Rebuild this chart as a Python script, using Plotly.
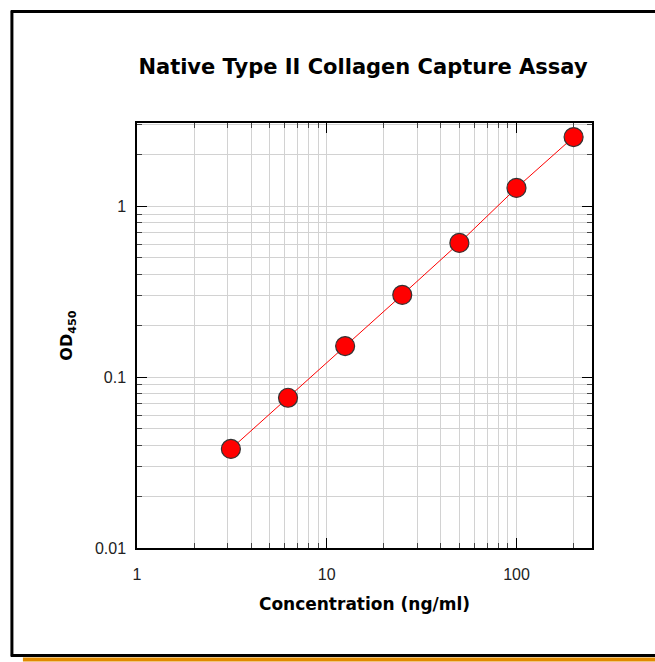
import plotly.graph_objects as go

concentration = [3.125, 6.25, 12.5, 25, 50, 100, 200]
od450 = [0.038, 0.0757, 0.152, 0.303, 0.61, 1.28, 2.54]
x_tickvals = [1, 10, 100]
x_ticktext = ["1", "10", "100"]
y_tickvals = [0.01, 0.1, 1]
y_ticktext = ["0.01", "0.1", "1"]

W, H = 655, 662
L, R, T, B = 137, 591.7, 122.7, 548.3

def px(x):
    return (x - L) / (R - L)

def py(y):
    return (B - y) / (B - T)

fig = go.Figure()
fig.add_trace(go.Scatter(
    x=concentration, y=od450, mode="lines+markers",
    line=dict(color="#ff0000", width=1),
    marker=dict(size=19, color="#ff0000", line=dict(color="#333333", width=1.2)),
    showlegend=False,
))

axis_common = dict(
    type="log", showline=True, linecolor="black", linewidth=1.5, mirror="allticks",
    ticks="inside", ticklen=10, tickwidth=1.2, tickcolor="black",
    showgrid=True, gridcolor="#d2d2d2", gridwidth=1, zeroline=False,
    tickfont=dict(family="Liberation Sans, Arial", size=16, color="#222222"),
    minor=dict(ticks="inside", ticklen=5, tickwidth=1, tickcolor="#444444",
               dtick="D1", showgrid=True, gridcolor="#d2d2d2", gridwidth=1),
)

fig.update_xaxes(**axis_common, range=[0, 2.398], tickvals=x_tickvals, ticktext=x_ticktext,
                 ticklabelstandoff=11,
                 title=dict(text="<b>Concentration (ng/ml)</b>", standoff=16,
                            font=dict(family="DejaVu Sans", size=17, color="black")))
fig.update_yaxes(**axis_common, range=[-2, 0.487], tickvals=y_tickvals, ticktext=y_ticktext,
                 ticklabelstandoff=6,
                 title=dict(text="<b>OD<sub>450</sub></b>", standoff=18,
                            font=dict(family="DejaVu Sans", size=16, color="black")))

shapes = [
    dict(type="line", xref="paper", yref="paper", x0=px(12), x1=px(12), y0=py(10), y1=py(657),
         line=dict(color="black", width=3)),
    dict(type="line", xref="paper", yref="paper", x0=px(11), x1=px(660), y0=py(11), y1=py(11),
         line=dict(color="black", width=3)),
    dict(type="line", xref="paper", yref="paper", x0=px(11), x1=px(660), y0=py(656), y1=py(656),
         line=dict(color="black", width=3)),
    dict(type="line", xref="paper", yref="paper", x0=px(23), x1=px(660), y0=py(660), y1=py(660),
         line=dict(color="#e08a00", width=4)),
]

fig.update_layout(
    width=W, height=H,
    margin=dict(l=L, r=W - R, t=T, b=H - B),
    paper_bgcolor="white", plot_bgcolor="white",
    title=dict(text="<b>Native Type II Collagen Capture Assay</b>", xref="container",
               x=363 / W, xanchor="center", yref="container",
               y=1 - 67 / H, yanchor="middle",
               font=dict(family="DejaVu Sans", size=21, color="black")),
    shapes=shapes,
)

fig.write_html("out.html", config={"displayModeBar": False},
               post_script="document.body.style.margin='0px';")
